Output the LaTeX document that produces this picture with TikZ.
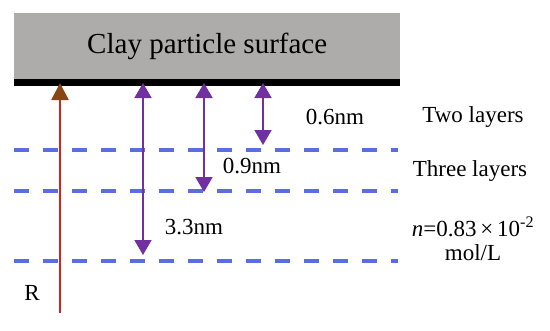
\documentclass[tikz,border=0pt]{standalone}
\usepackage{fontspec}
\setmainfont{Liberation Serif}
\usetikzlibrary{arrows.meta}
\definecolor{claygray}{RGB}{174,171,171}
\definecolor{layerblue}{RGB}{90,110,225}
\definecolor{gapviolet}{RGB}{112,48,160}
\definecolor{radred}{RGB}{205,40,25}
\definecolor{radhead}{RGB}{135,70,20}

\begin{document}
\begin{tikzpicture}[x=1pt, y=-1pt,
  lbl/.style={font=\fontsize{23}{25}\selectfont, inner sep=0pt},
  layer/.style={draw=layerblue, line width=3.2pt, dash pattern=on 15pt off 14pt},
  gap/.style={draw=gapviolet, line width=1.7pt,
              {Triangle[width=17pt,length=15pt]}-{Triangle[width=17pt,length=15pt]}},
  rad/.style={draw=radred, line width=2.6pt,
              -{Triangle[width=17pt,length=17pt,color=radhead,fill=radhead]}}
]
\useasboundingbox (0,0) rectangle (550,330);

% clay surface
\node[fill=claygray, minimum width=386pt, minimum height=66pt, inner sep=0pt,
      anchor=north west] (clay) at (14,13) {};
\node[font=\fontsize{29}{31}\selectfont] (title) at (clay.center) {Clay particle surface};
\node[fill=black, minimum width=386pt, minimum height=7pt, inner sep=0pt,
      anchor=north west] (surf) at (14,79) {};

% layer boundaries
\draw[layer] (14,150) coordinate (two) -- (398,150);
\draw[layer] (14,191) coordinate (three) -- (398,191);
\draw[layer] (14,261) coordinate (conc) -- (398,261);

% arrow ends
\coordinate (r0) at (60,313);
\coordinate (r1) at (60,83);
\coordinate (a1) at (143,83);
\coordinate (b1) at (143,255);
\coordinate (a2) at (204,83);
\coordinate (b2) at (204,192);
\coordinate (a3) at (263,83);
\coordinate (b3) at (263,145);

\draw[rad] (r0) -- (r1);
\draw[gap] (a1) -- (b1);
\draw[gap] (a2) -- (b2);
\draw[gap] (a3) -- (b3);

% labels
\node[lbl] (d06) at (335,117) {0.6nm};
\node[lbl] (d09) at (252,166) {0.9nm};
\node[lbl] (d33) at (194,227) {3.3nm};
\node[lbl] (rlab) at (32,293) {R};
\node[lbl] (twol) at (473,117) {Two layers};
\node[lbl] (threel) at (470,171) {Three layers};
\node[lbl] (nval) at (473,227) {\textit{n}=0.83\,×\,10\textsuperscript{-2}};
\node[lbl] (unit) at (473,253) {mol/L};
\end{tikzpicture}
\end{document}
